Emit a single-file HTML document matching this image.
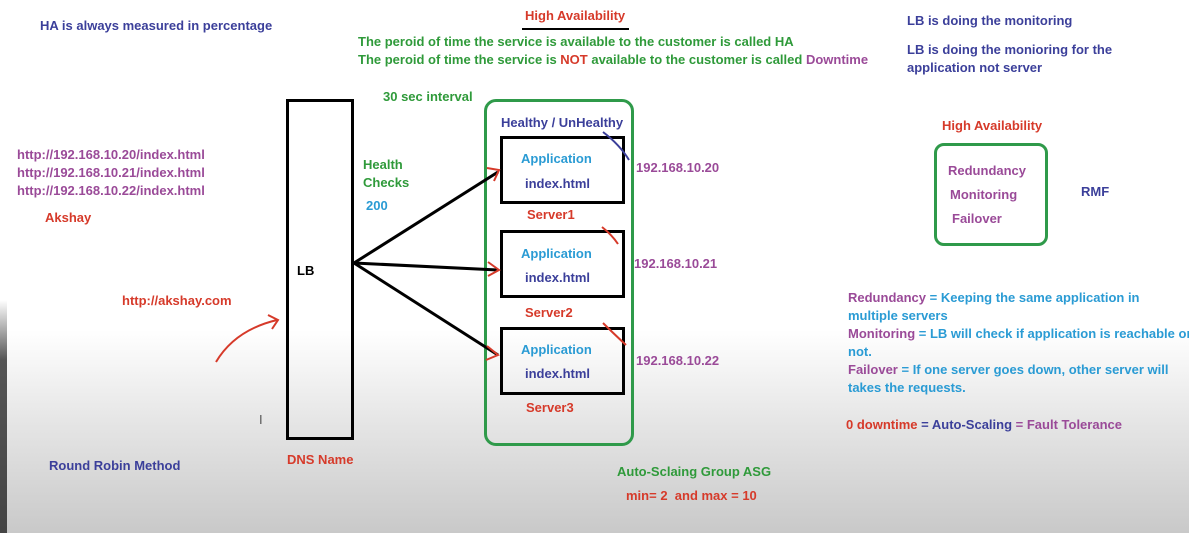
<!DOCTYPE html>
<html><head><meta charset="utf-8"><style>
html,body{margin:0;padding:0}
body{width:1189px;height:533px;position:relative;overflow:hidden;font-family:"Liberation Sans",sans-serif;font-weight:bold;font-size:13px;
background:linear-gradient(to bottom,#fff 0px,#fff 330px,#e6e6e6 420px,#c9c9c9 533px)}
.t{position:absolute;white-space:nowrap}
.r{color:#d63a2a}.b{color:#3b3f9a}.g{color:#2f9a3a}.p{color:#9a4a98}.c{color:#2a9bd4}
.box{position:absolute;border:3px solid #000;box-sizing:border-box}
</style></head><body>
<div style="position:absolute;left:0;top:0;width:7px;height:533px;background:linear-gradient(#fff 0,#fff 300px,#555 360px,#444 533px)"></div>
<div class="t b" style="left:40px;top:18px">HA is always measured in percentage</div>
<div class="t r" style="left:525px;top:8px">High Availability</div>
<div style="position:absolute;left:522px;top:28px;width:107px;height:2px;background:#000"></div>
<div class="t g" style="left:358px;top:34px">The peroid of time the service is available to the customer is called HA</div>
<div class="t g" style="left:358px;top:52px">The peroid of time the service is <span class="r">NOT</span> available to the customer is called <span class="p">Downtime</span></div>
<div class="t b" style="left:907px;top:13px">LB is doing the monitoring</div>
<div class="t b" style="left:907px;top:41px;line-height:18px">LB is doing the monioring for the<br>application not server</div>
<div class="t g" style="left:383px;top:89px">30 sec interval</div>
<div class="t p" style="left:17px;top:146px;line-height:18px">http://192.168.10.20/index.html<br>http://192.168.10.21/index.html<br>http://192.168.10.22/index.html</div>
<div class="t r" style="left:45px;top:210px">Akshay</div>
<div class="t g" style="left:363px;top:156px;line-height:18px">Health<br>Checks</div>
<div class="t c" style="left:366px;top:198px">200</div>
<div class="t r" style="left:122px;top:293px">http://akshay.com</div>
<div class="box" style="left:286px;top:99px;width:68px;height:341px"></div>
<div class="t" style="left:297px;top:263px;color:#000">LB</div>
<div class="t r" style="left:287px;top:452px">DNS Name</div>
<div class="t b" style="left:49px;top:458px">Round Robin Method</div>
<div class="t" style="left:259px;top:412px;color:#555;font-weight:normal">I</div>
<div style="position:absolute;left:484px;top:99px;width:150px;height:347px;border:3px solid #2f9a4a;border-radius:12px;box-sizing:border-box"></div>
<div class="t b" style="left:501px;top:115px">Healthy / UnHealthy</div>
<div class="box" style="left:500px;top:136px;width:125px;height:68px"></div>
<div class="t c" style="left:521px;top:151px">Application</div><div class="t b" style="left:525px;top:176px">index.html</div>
<div class="t r" style="left:527px;top:207px">Server1</div>
<div class="box" style="left:500px;top:230px;width:125px;height:68px"></div>
<div class="t c" style="left:521px;top:246px">Application</div><div class="t b" style="left:525px;top:270px">index.html</div>
<div class="t r" style="left:525px;top:305px">Server2</div>
<div class="box" style="left:500px;top:327px;width:125px;height:68px"></div>
<div class="t c" style="left:521px;top:342px">Application</div><div class="t b" style="left:525px;top:366px">index.html</div>
<div class="t r" style="left:526px;top:400px">Server3</div>
<div class="t p" style="left:636px;top:160px;font-size:13px">192.168.10.20</div>
<div class="t p" style="left:634px;top:256px;font-size:13px">192.168.10.21</div>
<div class="t p" style="left:636px;top:353px;font-size:13px">192.168.10.22</div>
<div class="t g" style="left:617px;top:464px">Auto-Sclaing Group ASG</div>
<div class="t r" style="left:626px;top:488px">min= 2&nbsp; and max = 10</div>
<svg style="position:absolute;left:0;top:0" width="1189" height="533">
<g stroke="#000" stroke-width="3"><line x1="354" y1="263" x2="498" y2="172"/><line x1="354" y1="263" x2="498" y2="270"/><line x1="354" y1="263" x2="498" y2="355"/></g>
<g stroke="#d63a2a" stroke-width="2" fill="none">
<path d="M487 168 L499 170 L494 181"/><path d="M488 262 L499 270 L488 276"/><path d="M487 346 L498 355 L486 360"/>
<path d="M216 362 Q235 330 277 320"/><path d="M268 315 L278 320 L272 329"/>
<path d="M602 227 Q612 235 618 244"/><path d="M603 323 Q612 332 626 345"/>
</g>
<path d="M603 132 Q620 145 629 160" stroke="#3b3f9a" stroke-width="2" fill="none"/>
</svg>
<div class="t r" style="left:942px;top:118px">High Availability</div>
<div style="position:absolute;left:934px;top:143px;width:114px;height:103px;border:3px solid #2f9a4a;border-radius:10px;box-sizing:border-box"></div>
<div class="t p" style="left:948px;top:163px">Redundancy</div>
<div class="t p" style="left:950px;top:187px">Monitoring</div>
<div class="t p" style="left:952px;top:211px">Failover</div>
<div class="t b" style="left:1081px;top:184px">RMF</div>
<div class="t" style="left:848px;top:289px;line-height:18px"><span class="p">Redundancy</span> <span class="c">= Keeping the same application in<br>multiple servers</span></div>
<div class="t" style="left:848px;top:325px;line-height:18px"><span class="p">Monitoring</span> <span class="c">= LB will check if application is reachable or<br>not.</span></div>
<div class="t" style="left:848px;top:361px;line-height:18px"><span class="p">Failover</span> <span class="c">= If one server goes down, other server will<br>takes the requests.</span></div>
<div class="t" style="left:846px;top:417px"><span class="r">0 downtime</span> <span class="b">= Auto-Scaling</span> <span class="p">= Fault Tolerance</span></div>
</body></html>
